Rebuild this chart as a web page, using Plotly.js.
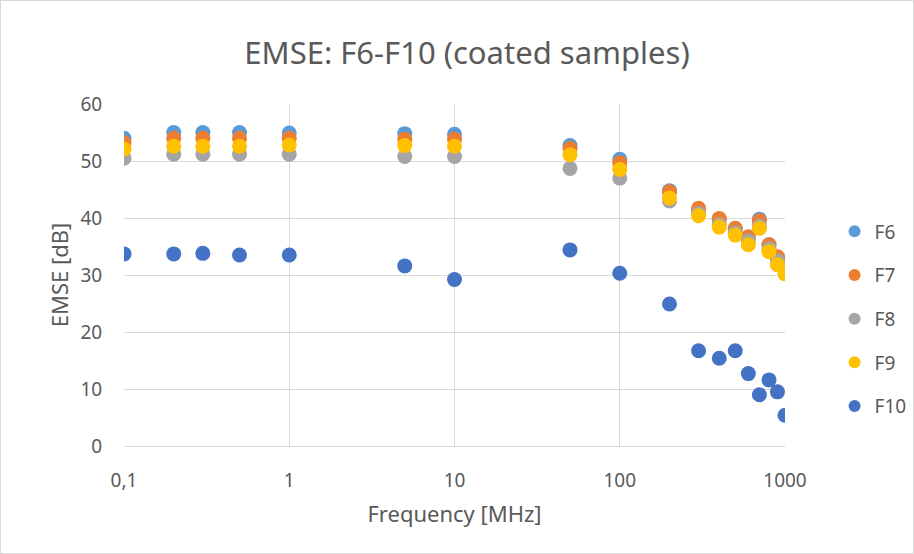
<!DOCTYPE html>
<html>
<head>
<meta charset="utf-8">
<script src="https://cdn.plot.ly/plotly-3.0.1.min.js"></script>
<style>
  html, body { margin: 0; padding: 0; background: #fff; }
  #chart { width: 912px; height: 552px; border: 1px solid #d9d9d9; }
</style>
</head>
<body>
<div id="chart"></div>
<script>
const freq = [0.1, 0.2, 0.3, 0.5, 1, 5, 10, 50, 100, 200, 300, 400, 500, 600, 700, 800, 900, 1000];
const F6  = [54.0, 55.0, 55.0, 55.0, 54.9, 54.8, 54.7, 52.7, 50.3, 44.8, 41.5, 39.8, 38.1, 36.6, 39.8, 35.3, 33.1, 31.4];
const F7  = [53.2, 54.0, 54.0, 54.0, 54.0, 53.8, 53.8, 52.2, 49.7, 44.6, 41.7, 39.9, 38.2, 36.7, 39.5, 35.3, 33.2, 31.5];
const F8  = [50.5, 51.2, 51.2, 51.2, 51.2, 50.8, 50.8, 48.7, 47.0, 43.0, 40.8, 38.8, 37.4, 36.0, 38.6, 34.6, 32.5, 30.9];
const F9  = [52.1, 52.6, 52.6, 52.6, 52.8, 52.7, 52.6, 51.1, 48.5, 43.5, 40.4, 38.4, 37.0, 35.3, 38.2, 34.1, 31.8, 30.2];
const F10 = [33.7, 33.7, 33.8, 33.5, 33.5, 31.6, 29.2, 34.4, 30.3, 24.9, 16.7, 15.4, 16.7, 12.7, 9.0, 11.6, 9.5, 5.4];
const names = ['F6', 'F7', 'F8', 'F9', 'F10'];
const series = [F6, F7, F8, F9, F10];
const colors = ['#5B9BD5', '#ED7D31', '#A5A5A5', '#FFC000', '#4472C4'];
const xTickVals = [0.1, 1, 10, 100, 1000];
const xTickText = ['0,1', '1', '10', '100', '1000'];

const font = 'Noto Sans, Open Sans, sans-serif';
const traces = series.map((ys, i) => ({
  x: freq, y: ys, name: names[i], type: 'scatter', mode: 'markers',
  legendgroup: 'g' + i,
  marker: { color: colors[i], size: 15 }
}));

const layout = {
  width: 912, height: 552,
  margin: { l: 123, r: 128, t: 103, b: 107 },
  paper_bgcolor: '#fff', plot_bgcolor: '#fff',
  font: { family: font, color: '#595959', size: 18 },
  title: { text: 'EMSE: F6-F10 (coated samples)', font: { size: 31, color: '#595959', family: font },
           x: 0.511, xanchor: 'center', y: 0.905, yanchor: 'middle' },
  xaxis: {
    type: 'log', range: [-1, 3], tickvals: xTickVals, ticktext: xTickText,
    showgrid: true, gridcolor: '#d9d9d9', gridwidth: 1, zeroline: false,
    showline: true, linecolor: '#d9d9d9', mirror: false,
    ticks: 'outside', ticklen: 17, tickcolor: 'rgba(0,0,0,0)',
    tickfont: { size: 19, color: '#595959' },
    title: { text: 'Frequency [MHz]', font: { size: 22, color: '#595959' }, standoff: 14 }
  },
  yaxis: {
    range: [0, 60], dtick: 10, tick0: 0,
    showgrid: true, gridcolor: '#d9d9d9', gridwidth: 1, zeroline: false,
    showline: false,
    ticks: 'outside', ticklen: 17, tickcolor: 'rgba(0,0,0,0)',
    tickfont: { size: 19, color: '#595959' },
    title: { text: 'EMSE [dB]', font: { size: 22, color: '#595959' }, standoff: 5 }
  },
  legend: {
    xref: 'container', yref: 'container',
    x: 0.914, xanchor: 'left', y: 0.617, yanchor: 'top',
    font: { size: 19, color: '#595959' },
    itemsizing: 'constant', tracegroupgap: 16, itemwidth: 30,
    bgcolor: 'rgba(0,0,0,0)'
  },
  showlegend: true
};

Plotly.newPlot('chart', traces, layout, { displayModeBar: false, staticPlot: true });
</script>
</body>
</html>
